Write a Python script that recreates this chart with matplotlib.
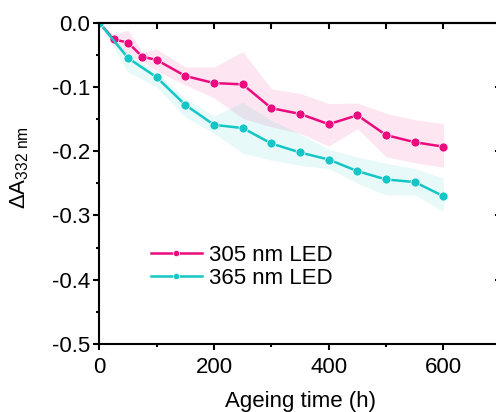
import matplotlib
matplotlib.use("Agg")
import matplotlib.pyplot as plt
from matplotlib.ticker import MultipleLocator

plt.rcParams['font.family'] = ['Liberation Sans', 'DejaVu Sans']
plt.rcParams['mathtext.fontset'] = 'custom'
plt.rcParams['mathtext.rm'] = 'Liberation Sans'
plt.rcParams['mathtext.it'] = 'Liberation Sans'

# Daten
zeit_305 = [0, 25, 50, 75, 100, 150, 200, 250, 300, 350, 400, 450, 500, 550, 600]
mittel_305 = [0, -0.026, -0.031, -0.053, -0.058, -0.083, -0.094, -0.096, -0.133,
              -0.142, -0.158, -0.144, -0.175, -0.186, -0.193]
oben_305 = [0, -0.018, -0.012, -0.046, -0.041, -0.069, -0.069, -0.045, -0.103,
            -0.110, -0.126, -0.125, -0.141, -0.151, -0.157]
unten_305 = [0, -0.034, -0.050, -0.060, -0.075, -0.097, -0.117, -0.149, -0.162,
             -0.172, -0.192, -0.165, -0.209, -0.218, -0.225]

zeit_365 = [0, 50, 100, 150, 200, 250, 300, 350, 400, 450, 500, 550, 600]
mittel_365 = [0, -0.055, -0.085, -0.128, -0.159, -0.164, -0.188, -0.202, -0.213,
              -0.231, -0.244, -0.248, -0.270]
oben_365 = [0, -0.047, -0.077, -0.118, -0.145, -0.124, -0.152, -0.173, -0.197,
            -0.209, -0.219, -0.227, -0.242]
unten_365 = [0, -0.077, -0.100, -0.147, -0.172, -0.203, -0.214, -0.222, -0.227,
             -0.250, -0.268, -0.268, -0.294]

pink = "#EC0A7E"
cyan = "#14C6C6"
schrift = 16

fig = plt.figure(figsize=(4.96, 4.12), dpi=100)
ax = fig.add_axes([0.2002, 0.165, 0.8095, 0.780])

ax.fill_between(zeit_305, unten_305, oben_305, color=pink, alpha=0.1, lw=0)
ax.fill_between(zeit_365, unten_365, oben_365, color=cyan, alpha=0.1, lw=0)
ax.plot(zeit_305, mittel_305, "-o", color=pink, lw=1.8, ms=6.5,
        mec="white", mew=0.5, label="305 nm LED")
ax.plot(zeit_365, mittel_365, "-o", color=cyan, lw=1.8, ms=6.5,
        mec="white", mew=0.5, label="365 nm LED")

ax.set_xlim(0, 700)
ax.set_ylim(-0.5, 0.0)
ax.xaxis.set_major_locator(MultipleLocator(200))
ax.xaxis.set_minor_locator(MultipleLocator(100))
ax.yaxis.set_minor_locator(MultipleLocator(0.05))
ax.set_yticks([0.0, -0.1, -0.2, -0.3, -0.4, -0.5])
ax.set_yticklabels(["0.0", "-0.1", "-0.2", "-0.3", "-0.4", "-0.5"])

for s in ax.spines.values():
    s.set_linewidth(1.5)
ax.tick_params(which="major", direction="out", length=4.5, width=1.5,
               labelsize=schrift, pad=2)
ax.tick_params(which="minor", direction="out", length=2.5, width=1.5)
ax.tick_params(axis="x", which="major", pad=4.5)

oben = ax.secondary_xaxis("top")
oben.set_xticks(range(100, 700, 100))
oben.tick_params(direction="in", length=4, width=1.5, labeltop=False)
oben.spines["top"].set_linewidth(1.5)
rechts = ax.secondary_yaxis("right")
rechts.set_yticks([-0.1, -0.2, -0.3, -0.4])
rechts.tick_params(direction="in", length=4.5, width=1.5, labelright=False)

ax.set_xlabel("Ageing time (h)", fontsize=schrift, labelpad=9.5)
ax.set_ylabel(r"$\mathrm{\Delta A}_{\mathrm{332\ nm}}$", fontsize=schrift)
ax.yaxis.set_label_coords(-0.17, 0.55)

ax.legend(loc="upper left", bbox_to_anchor=(0.095, 0.35), frameon=False,
          fontsize=schrift, handlelength=2.3, handletextpad=0.3, labelspacing=0.1,
          markerscale=0.7, borderaxespad=0.2)

fig.savefig("out.png", dpi=100)
